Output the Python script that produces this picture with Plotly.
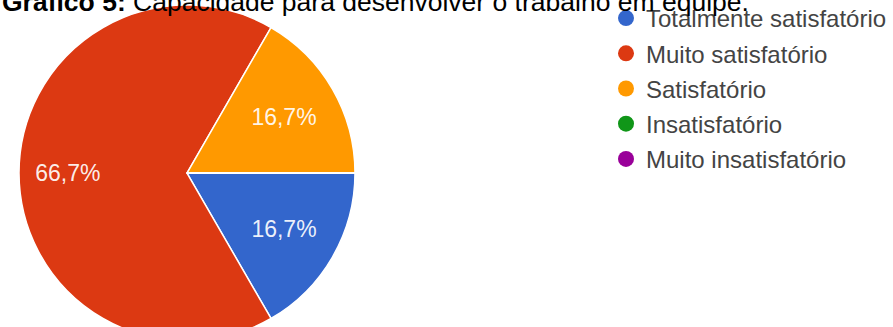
import plotly.graph_objects as go

# Survey answers: "Capacidade para desenvolver o trabalho em equipe"
categories = [
    "Totalmente satisfatório",
    "Muito satisfatório",
    "Satisfatório",
    "Insatisfatório",
    "Muito insatisfatório",
]
responses = [1, 4, 1, 0, 0]
colors = ["#3366CC", "#DC3912", "#FF9900", "#109618", "#990099"]

title_text = "<b>Gráfico 5:</b> Capacidade para desenvolver o trabalho em equipe."

W, H = 893, 341
TOP = 5
FONT = "Liberation Sans, Arial, sans-serif"

# Percent labels; the large slice's label is padded so it sits further out
PCT = "%{percent:.1%}"
label_templates = [PCT, PCT + "\u00a0" * 11, PCT, PCT, PCT]

fig = go.Figure()

fig.add_trace(go.Pie(
    labels=categories,
    values=responses,
    sort=False,
    direction="clockwise",
    rotation=90,
    marker=dict(colors=colors, line=dict(color="white", width=1.5)),
    texttemplate=label_templates,
    textposition="inside",
    insidetextorientation="horizontal",
    insidetextfont=dict(family=FONT, size=23, color="rgba(255,255,255,0.92)"),
    hoverinfo="label+percent",
    showlegend=False,
    domain=dict(x=[19 / W, 355 / W], y=[0, 1]),
))

# Legend entries with round markers, one per answer category
for name, col in zip(categories, colors):
    fig.add_trace(go.Scatter(
        x=[None], y=[None], mode="markers", name=name, legendgroup=name,
        marker=dict(symbol="circle", size=17, color=col),
    ))

fig.add_annotation(
    text=title_text, x=0, xref="paper", xanchor="left",
    y=1, yref="paper", yanchor="middle", yshift=3,
    showarrow=False, font=dict(family=FONT, size=26.5, color="#000"),
)

fig.update_layout(
    width=W, height=H,
    margin=dict(l=0, r=0, t=TOP, b=0, autoexpand=False),
    paper_bgcolor="white", plot_bgcolor="white",
    separators=",.",
    xaxis=dict(visible=False), yaxis=dict(visible=False),
    legend=dict(
        x=606 / W, xanchor="left", y=1 + 9 / (H - TOP), yanchor="top",
        yref="paper", maxheight=400,
        font=dict(family=FONT, size=24, color="#444"),
        traceorder="grouped", tracegroupgap=1,
        itemclick=False, itemdoubleclick=False,
        bgcolor="rgba(0,0,0,0)",
    ),
)

fig.write_html(
    "out.html",
    post_script="document.body.style.overflow='hidden';"
                "document.documentElement.style.overflow='hidden';",
)
